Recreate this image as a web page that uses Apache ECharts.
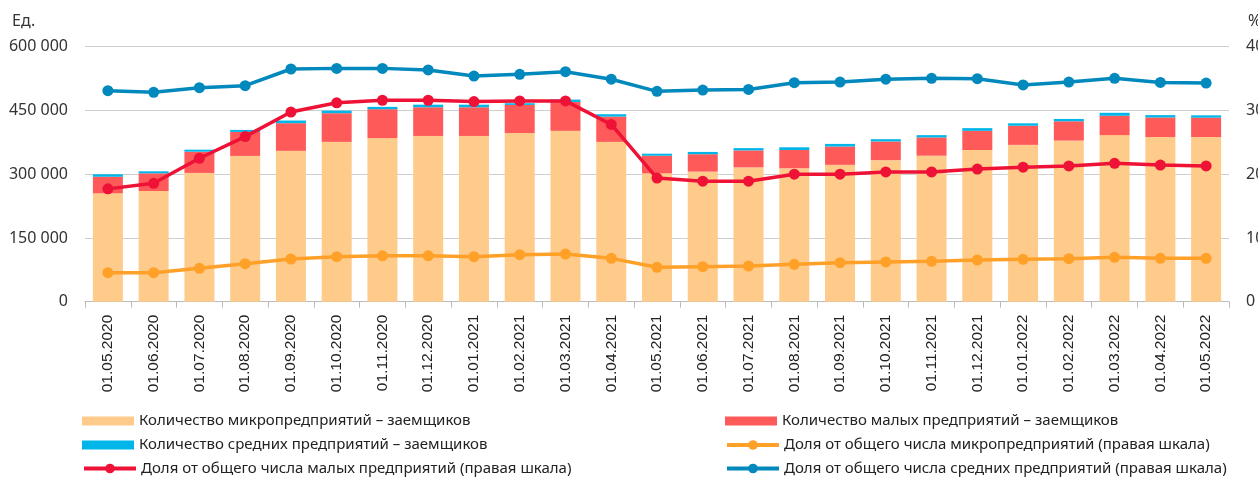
<!DOCTYPE html>
<html>
<head>
<meta charset="utf-8">
<script src="https://cdn.jsdelivr.net/npm/echarts@6/dist/echarts.min.js"></script>
<style>
  html, body { margin: 0; padding: 0; background: #fff; }
  #chart { width: 1258px; height: 479px; }
</style>
</head>
<body>
<div id="chart"></div>
<script>
// категории (даты)
const categories = [
  "01.05.2020", "01.06.2020", "01.07.2020", "01.08.2020", "01.09.2020",
  "01.10.2020", "01.11.2020", "01.12.2020", "01.01.2021", "01.02.2021",
  "01.03.2021", "01.04.2021", "01.05.2021", "01.06.2021", "01.07.2021",
  "01.08.2021", "01.09.2021", "01.10.2021", "01.11.2021", "01.12.2021",
  "01.01.2022", "01.02.2022", "01.03.2022", "01.04.2022", "01.05.2022"
];
// количество заемщиков, ед.
const microCount = [255000, 260500, 303000, 343000, 355000, 376000, 385000, 390000, 390000, 397000,
  402000, 376000, 302000, 306000, 316000, 314000, 322000, 333000, 343500, 357000,
  369000, 379000, 392000, 387500, 387500];
const smallCount = [39000, 41600, 50000, 56500, 65000, 67500, 68000, 67500, 67500, 66000,
  68000, 59500, 41500, 41000, 40000, 43000, 43000, 44000, 43000, 45000,
  45000, 45500, 45500, 46000, 45500];
const mediumCount = [5800, 4700, 4700, 4700, 6300, 6100, 5400, 6100, 6100, 4000,
  5600, 5600, 4700, 5400, 5400, 6300, 6300, 5400, 5400, 6400,
  5700, 5500, 7000, 5500, 5500];
// доли, % (правая шкала)
const microShare = [4.55, 4.55, 5.24, 5.96, 6.7, 7.06, 7.2, 7.2, 7.06, 7.37,
  7.48, 6.8, 5.4, 5.5, 5.6, 5.87, 6.12, 6.23, 6.34, 6.54,
  6.65, 6.75, 6.96, 6.8, 6.8];
const smallShare = [17.7, 18.57, 22.5, 25.9, 29.75, 31.2, 31.6, 31.6, 31.4, 31.5,
  31.5, 27.8, 19.4, 18.9, 18.9, 20.0, 20.0, 20.35, 20.35, 20.8,
  21.1, 21.3, 21.7, 21.44, 21.3];
const mediumShare = [33.1, 32.85, 33.57, 33.88, 36.5, 36.6, 36.6, 36.35, 35.4, 35.67,
  36.08, 34.9, 33.0, 33.2, 33.3, 34.35, 34.46, 34.9, 35.04, 34.98,
  34.0, 34.46, 35.04, 34.4, 34.3];

const names = {
  micro: "Количество микропредприятий – заемщиков",
  small: "Количество малых предприятий – заемщиков",
  medium: "Количество средних предприятий – заемщиков",
  microShare: "Доля от общего числа микропредприятий (правая шкала)",
  smallShare: "Доля от общего числа малых предприятий (правая шкала)",
  mediumShare: "Доля от общего числа средних предприятий (правая шкала)"
};

const FONT = "Noto Sans";
const chart = echarts.init(document.getElementById("chart"));

function legendAt(name, left, centerY, isLine) {
  return {
    data: [name],
    left: left,
    top: centerY - 9,
    padding: 0,
    itemWidth: 52,
    itemHeight: isLine ? 12 : 9,
    icon: isLine ? undefined : "rect",
    selectedMode: false,
    lineStyle: { width: 4 },
    textStyle: { fontFamily: FONT, fontSize: 15, color: "#222", lineHeight: 18 }
  };
}

function lineSeries(name, data, color) {
  return {
    name: name,
    type: "line",
    yAxisIndex: 1,
    data: data,
    symbol: "circle",
    symbolSize: 11,
    z: 5,
    lineStyle: { color: color, width: 3.5 },
    itemStyle: { color: color }
  };
}

const option = {
  animation: false,
  backgroundColor: "#fff",
  grid: { left: 85, right: 29, top: 46.7, bottom: 177.3, outerBoundsMode: "none" },
  legend: [
    legendAt(names.micro, 82, 421, false),
    legendAt(names.medium, 82, 445, false),
    legendAt(names.smallShare, 82, 468.5, true),
    legendAt(names.small, 725, 421, false),
    legendAt(names.microShare, 725, 445, true),
    legendAt(names.mediumShare, 725, 468.5, true)
  ],
  graphic: [
    { type: "text", left: 12, top: 13, style: { text: "Ед.", font: "16px " + FONT, fill: "#333" } },
    { type: "text", left: 1248, top: 13, style: { text: "%", font: "16px " + FONT, fill: "#333" } }
  ],
  xAxis: {
    type: "category",
    data: categories,
    boundaryGap: true,
    axisLine: { lineStyle: { color: "#bbb", width: 1 } },
    axisTick: { show: true, length: 6, lineStyle: { color: "#bbb" } },
    axisLabel: {
      rotate: 90,
      margin: 13,
      interval: 0,
      fontFamily: "Liberation Sans",
      fontSize: 15.5,
      color: "#222"
    }
  },
  yAxis: [
    {
      type: "value",
      min: 0,
      max: 600000,
      interval: 150000,
      axisLine: { show: false },
      axisTick: { show: false },
      splitLine: { lineStyle: { color: "#cfcfcf", width: 1.2 } },
      axisLabel: {
        margin: 17,
        fontFamily: FONT,
        fontSize: 16,
        color: "#333",
        formatter: v => String(v).replace(/\B(?=(\d{3})+(?!\d))/g, " ")
      }
    },
    {
      type: "value",
      min: 0,
      max: 40,
      interval: 10,
      axisLine: { show: false },
      axisTick: { show: false },
      splitLine: { show: false },
      axisLabel: { margin: 17, fontFamily: FONT, fontSize: 16, color: "#333" }
    }
  ],
  series: [
    { name: names.micro, type: "bar", stack: "cnt", barWidth: 30, data: microCount, itemStyle: { color: "#FECB8A" } },
    { name: names.small, type: "bar", stack: "cnt", barWidth: 30, data: smallCount, itemStyle: { color: "#FF5A5A" } },
    { name: names.medium, type: "bar", stack: "cnt", barWidth: 30, data: mediumCount, itemStyle: { color: "#00B6E8" } },
    lineSeries(names.microShare, microShare, "#FFA028"),
    lineSeries(names.smallShare, smallShare, "#EE1236"),
    lineSeries(names.mediumShare, mediumShare, "#0188BC")
  ]
};

chart.setOption(option);
</script>
</body>
</html>
